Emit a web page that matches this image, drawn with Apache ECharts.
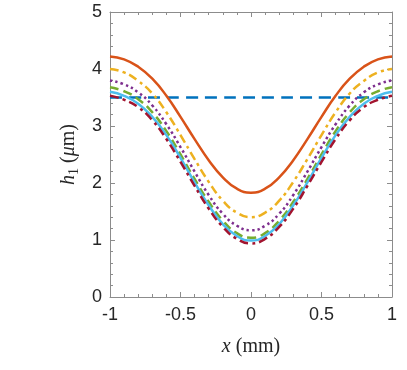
<!DOCTYPE html>
<html>
<head>
<meta charset="utf-8">
<style>
  html, body { margin: 0; padding: 0; background: #fff; }
  #chart { width: 407px; height: 370px; }
</style>
<script src="https://cdn.jsdelivr.net/npm/echarts@6/dist/echarts.min.js"></script>
</head>
<body>
<div id="chart"></div>
<script>
// x positions (mm)
var xs = [-1, -0.9, -0.8, -0.7, -0.6, -0.5, -0.4, -0.3, -0.2, -0.1, 0,
          0.1, 0.2, 0.3, 0.4, 0.5, 0.6, 0.7, 0.8, 0.9, 1];

// h1 values (um)
var hInit   = [3.50, 3.50, 3.50, 3.50, 3.50, 3.50, 3.50, 3.50, 3.50, 3.50, 3.50,
               3.50, 3.50, 3.50, 3.50, 3.50, 3.50, 3.50, 3.50, 3.50, 3.50];
var hOrange = [4.22, 4.17, 4.04, 3.83, 3.53, 3.16, 2.77, 2.40, 2.10, 1.90, 1.83,
               1.90, 2.10, 2.40, 2.77, 3.16, 3.53, 3.83, 4.04, 4.17, 4.22];
var hYellow = [4.00, 3.94, 3.79, 3.57, 3.24, 2.84, 2.42, 2.02, 1.69, 1.48, 1.40,
               1.48, 1.69, 2.02, 2.42, 2.84, 3.24, 3.57, 3.79, 3.94, 4.00];
var hPurple = [3.80, 3.73, 3.59, 3.36, 3.03, 2.63, 2.20, 1.79, 1.46, 1.25, 1.17,
               1.25, 1.46, 1.79, 2.20, 2.63, 3.03, 3.36, 3.59, 3.73, 3.80];
var hGreen  = [3.68, 3.61, 3.47, 3.24, 2.91, 2.50, 2.07, 1.67, 1.34, 1.12, 1.04,
               1.12, 1.34, 1.67, 2.07, 2.50, 2.91, 3.24, 3.47, 3.61, 3.68];
var hCyan   = [3.60, 3.53, 3.39, 3.16, 2.84, 2.44, 2.01, 1.61, 1.28, 1.07, 0.99,
               1.07, 1.28, 1.61, 2.01, 2.44, 2.84, 3.16, 3.39, 3.53, 3.60];
var hRed    = [3.53, 3.46, 3.33, 3.10, 2.77, 2.37, 1.95, 1.55, 1.23, 1.02, 0.94,
               1.02, 1.23, 1.55, 1.95, 2.37, 2.77, 3.10, 3.33, 3.46, 3.53];

var pairs = function (ys) {
  return xs.map(function (x, i) { return [x, ys[i]]; });
};

var axisColor = '#8c8c8c';
var textColor = '#262626';
var labelFont = { color: textColor, fontSize: 18, fontFamily: 'Liberation Sans, Arial, sans-serif' };
var serif = 'Liberation Serif, serif';

// box axes: ticks inside, minor ticks, never crossing at zero
var boxAxis = function (extra) {
  return Object.assign({
    type: 'value',
    axisLine: { show: true, onZero: false, lineStyle: { color: axisColor, width: 1 } },
    axisTick: { show: true, inside: true, length: 5, lineStyle: { color: axisColor } },
    minorTick: { show: true, splitNumber: 5, length: 3, lineStyle: { color: axisColor } },
    splitLine: { show: false }
  }, extra);
};

var chart = echarts.init(document.getElementById('chart'));

var line = function (data, color, type, z) {
  return {
    type: 'line',
    data: pairs(data),
    smooth: true,
    showSymbol: false,
    z: z,
    lineStyle: { color: color, width: 2.5, type: type, cap: 'butt' }
  };
};

chart.setOption({
  animation: false,
  grid: { left: 110, right: 15, top: 12, bottom: 73 },
  xAxis: [
    boxAxis({
      min: -1, max: 1, interval: 0.5,
      axisLabel: Object.assign({ margin: 9 }, labelFont),
      name: '{i|x}{r| (mm)}',
      nameLocation: 'middle',
      nameGap: 40,
      nameTextStyle: {
        rich: {
          i: { fontFamily: serif, fontStyle: 'italic', fontSize: 20, color: textColor },
          r: { fontFamily: serif, fontSize: 20, color: textColor }
        }
      }
    }),
    boxAxis({
      min: -1, max: 1, interval: 0.5, position: 'top',
      axisLabel: { show: false }
    })
  ],
  yAxis: [
    boxAxis({
      min: 0, max: 5, interval: 1,
      axisLabel: Object.assign({ margin: 8 }, labelFont),
      name: '{i|h}{s|1}{r| (}{i|\u03bc}{r|m)}',
      nameLocation: 'middle',
      nameRotate: 90,
      nameGap: 24,
      nameTextStyle: {
        rich: {
          i: { fontFamily: serif, fontStyle: 'italic', fontSize: 20, color: textColor },
          s: { fontFamily: serif, fontSize: 14, color: textColor, padding: [10, 0, 0, 0] },
          r: { fontFamily: serif, fontSize: 20, color: textColor }
        }
      }
    }),
    boxAxis({
      min: 0, max: 5, interval: 1, position: 'right',
      axisLabel: { show: false }
    })
  ],
  series: [
    line(hInit, '#0072BD', [12, 7], 2),
    line(hOrange, '#D95319', 'solid', 3),
    line(hYellow, '#EDB120', [9, 4, 3, 4], 3),
    line(hPurple, '#7E2F8E', [2.5, 3], 3),
    line(hGreen, '#77AC30', [9, 5], 3),
    line(hCyan, '#4DBEEE', 'solid', 3),
    line(hRed, '#A2142F', [9, 4, 3, 4], 3)
  ]
});
</script>
</body>
</html>
